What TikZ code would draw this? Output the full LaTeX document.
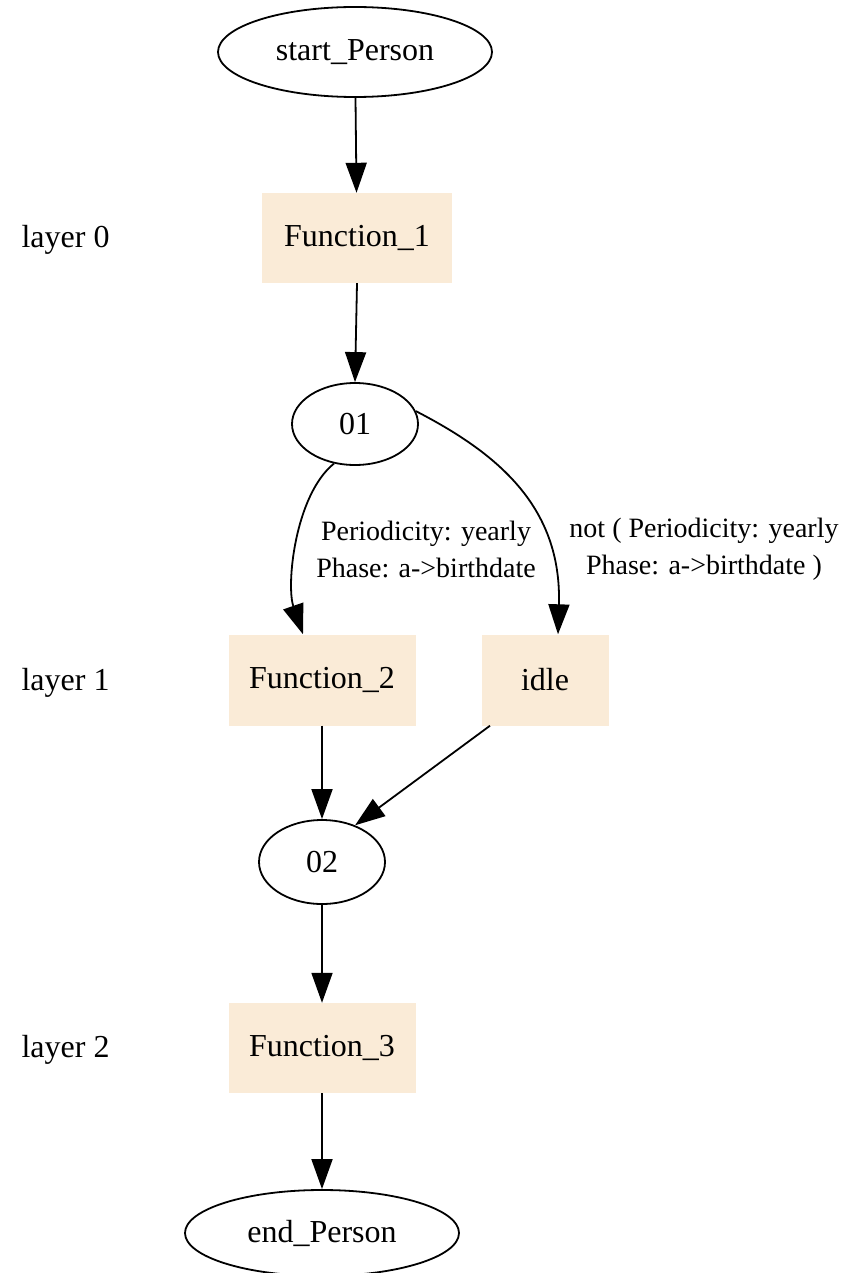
\documentclass[tikz,border=0pt]{standalone}
\usepackage{fontspec}
\setmainfont{Liberation Serif}
\usetikzlibrary{arrows.meta,shapes.geometric}
\definecolor{boxfill}{HTML}{FAEBD7}
\tikzset{
  every node/.style={font=\fontsize{32}{38}\selectfont},
  oval/.style={draw, ellipse, line width=1.8pt, inner sep=0pt},
  fbox/.style={fill=boxfill, rectangle, inner sep=0pt},
  lyr/.style={anchor=west},
  elabel/.style={align=center, font=\fontsize{28}{37}\selectfont, inner sep=0pt},
  conn/.style={line width=1.8pt, -{Triangle[length=30pt,width=21pt]}}
}
\begin{document}
\begin{tikzpicture}[x=1pt,y=-1pt]
\useasboundingbox (0,0) rectangle (867,1273);

% nodes
\node[oval, minimum width=274pt, minimum height=90pt] (start) at (355,52) {start\_Person};
\node[fbox, minimum width=190pt, minimum height=90pt] (f1) at (357,238) {Function\_1};
\node[oval, minimum width=126pt, minimum height=82pt] (o1) at (355,424) {01};
\node[fbox, minimum width=187pt, minimum height=91pt] (f2) at (322,680) {Function\_2};
\node[fbox, minimum width=127pt, minimum height=91pt] (idle) at (545,680) {idle};
\node[oval, minimum width=126pt, minimum height=84pt] (o2) at (322,862) {02};
\node[fbox, minimum width=187pt, minimum height=90pt] (f3) at (322,1048) {Function\_3};
\node[oval, minimum width=274pt, minimum height=86pt] (end) at (322,1233) {end\_Person};

% layer captions
\node[lyr] (l0) at (18,240) {layer 0};
\node[lyr] (l1) at (18,683) {layer 1};
\node[lyr] (l2) at (18,1050) {layer 2};

% edge labels
\node[elabel] (c1) at (426,549) {Periodicity: yearly\\Phase: a->birthdate};
\node[elabel] (c2) at (704,549) {not ( Periodicity: yearly\\Phase: a->birthdate )};

% connectors
\draw[conn] (start) -- (f1);
\draw[conn] (f1.south) -- (o1.north);
\draw[conn] (o1.242) .. controls (295,495) and (286,585) .. ([xshift=-19pt]f2.north);
\draw[conn] (o1.12) .. controls (495,452) and (562,505) .. ([xshift=13pt]idle.north);
\draw[conn] (f2.south) -- (o2.north);
\draw[conn] ([xshift=-55pt]idle.south) -- (o2.48);
\draw[conn] (o2.south) -- (f3.north);
\draw[conn] (f3.south) -- (end.north);
\end{tikzpicture}
\end{document}
